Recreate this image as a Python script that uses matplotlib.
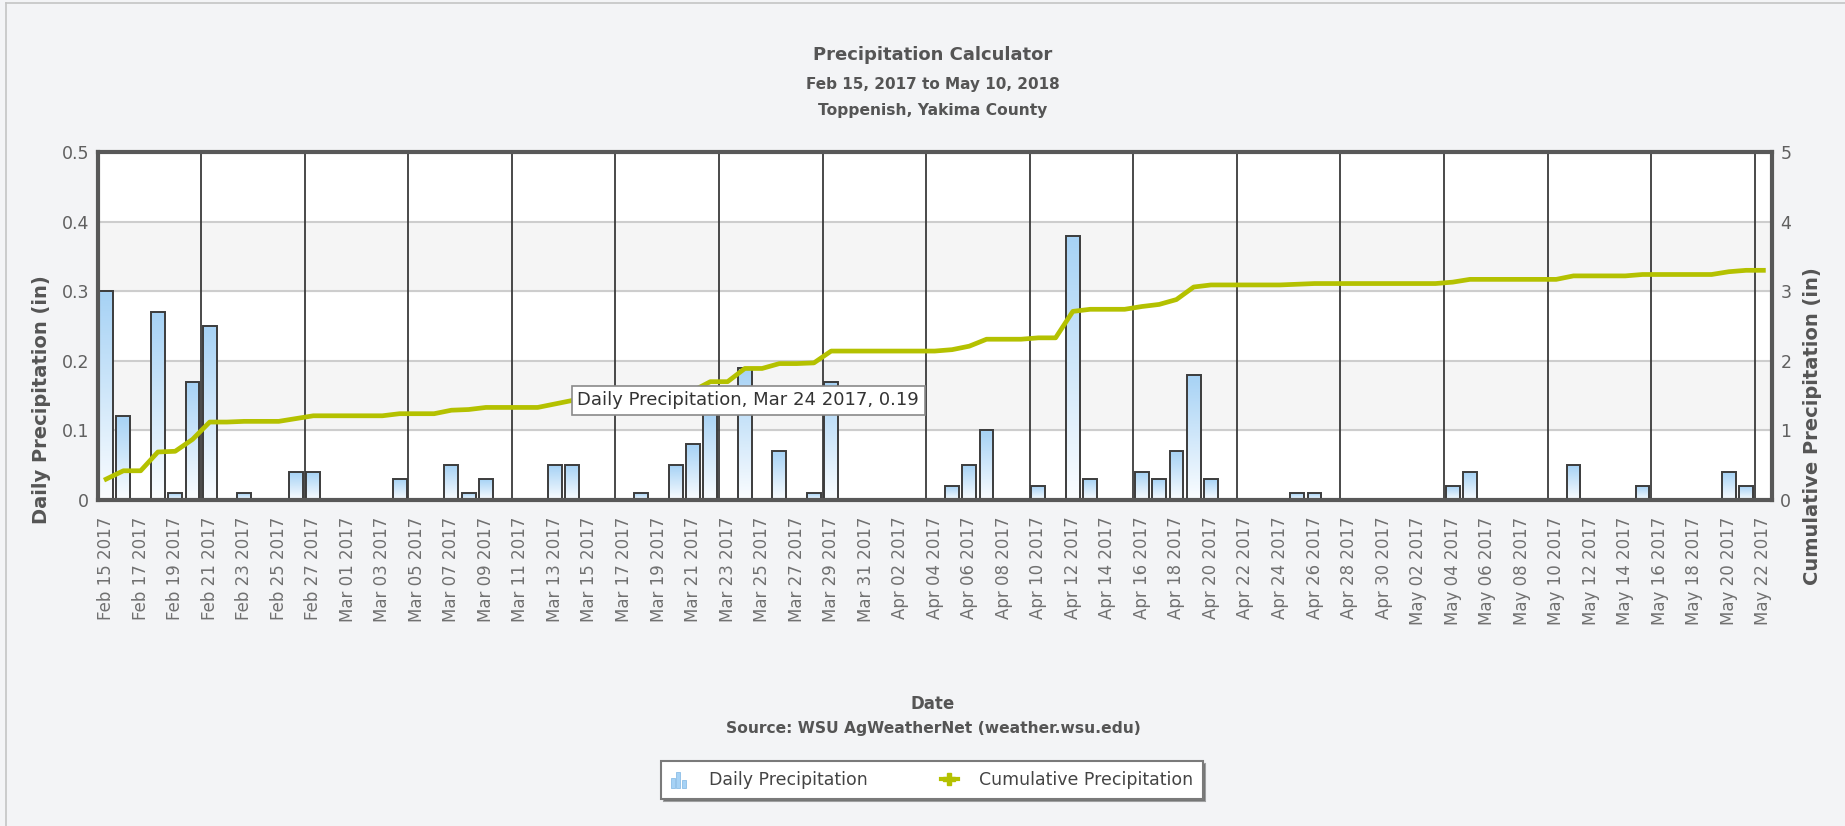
import numpy as np
import pandas as pd
import matplotlib
matplotlib.use("Agg")
import matplotlib.pyplot as plt
from matplotlib.colors import LinearSegmentedColormap
from matplotlib.patches import Rectangle, Patch
from matplotlib.lines import Line2D
from matplotlib.legend_handler import HandlerBase

# ---------------- data ----------------
dates = pd.date_range("2017-02-15", "2017-05-22", freq="D")
categories = [d.strftime("%b %d %Y") for d in dates]

daily = [0.30, 0.12, 0.00, 0.27, 0.01, 0.17, 0.25, 0.00, 0.01, 0.00,
         0.00, 0.04, 0.04, 0.00, 0.00, 0.00, 0.00, 0.03, 0.00, 0.00,
         0.05, 0.01, 0.03, 0.00, 0.00, 0.00, 0.05, 0.05, 0.00, 0.00,
         0.00, 0.01, 0.00, 0.05, 0.08, 0.13, 0.00, 0.19, 0.00, 0.07,
         0.00, 0.01, 0.17, 0.00, 0.00, 0.00, 0.00, 0.00, 0.00, 0.02,
         0.05, 0.10, 0.00, 0.00, 0.02, 0.00, 0.38, 0.03, 0.00, 0.00,
         0.04, 0.03, 0.07, 0.18, 0.03, 0.00, 0.00, 0.00, 0.00, 0.01,
         0.01, 0.00, 0.00, 0.00, 0.00, 0.00, 0.00, 0.00, 0.02, 0.04,
         0.00, 0.00, 0.00, 0.00, 0.00, 0.05, 0.00, 0.00, 0.00, 0.02,
         0.00, 0.00, 0.00, 0.00, 0.04, 0.02, 0.00]

cumulative = [0.30, 0.42, 0.42, 0.69, 0.70, 0.87, 1.12, 1.12, 1.13, 1.13,
              1.13, 1.17, 1.21, 1.21, 1.21, 1.21, 1.21, 1.24, 1.24, 1.24,
              1.29, 1.30, 1.33, 1.33, 1.33, 1.33, 1.38, 1.43, 1.43, 1.43,
              1.43, 1.44, 1.44, 1.49, 1.57, 1.70, 1.70, 1.89, 1.89, 1.96,
              1.96, 1.97, 2.14, 2.14, 2.14, 2.14, 2.14, 2.14, 2.14, 2.16,
              2.21, 2.31, 2.31, 2.31, 2.33, 2.33, 2.71, 2.74, 2.74, 2.74,
              2.78, 2.81, 2.88, 3.06, 3.09, 3.09, 3.09, 3.09, 3.09, 3.10,
              3.11, 3.11, 3.11, 3.11, 3.11, 3.11, 3.11, 3.11, 3.13, 3.17,
              3.17, 3.17, 3.17, 3.17, 3.17, 3.22, 3.22, 3.22, 3.22, 3.24,
              3.24, 3.24, 3.24, 3.24, 3.28, 3.30, 3.30]

left_ticks = [0, 0.1, 0.2, 0.3, 0.4, 0.5]
left_tick_labels = ["0", "0.1", "0.2", "0.3", "0.4", "0.5"]
right_ticks = [0, 1, 2, 3, 4, 5]
right_tick_labels = ["0", "1", "2", "3", "4", "5"]

tooltip_text = "Daily Precipitation, Mar 24 2017, 0.19"

# ---------------- style ----------------
BG = "#f3f4f6"
BAR_TOP = "#a6d2f5"
LINE_C = "#b4c100"
TXT = "#555555"

W, H = 1845, 826
fig = plt.figure(figsize=(W / 100, H / 100), dpi=100, facecolor=BG)

L, R, T, B = 97.5, 1772, 152, 500
ax = fig.add_axes([L / W, 1 - B / H, (R - L) / W, (B - T) / H])
ax.set_facecolor("white")

n = len(daily)
x = np.arange(n)

# alternating bands + grid
for lo, hi in [(0.1, 0.2), (0.3, 0.4)]:
    ax.axhspan(lo, hi, color="#f5f5f5", zorder=0)
for yv in left_ticks[1:-1]:
    ax.axhline(yv, color="#cdcdcd", lw=1.5, zorder=0.5)
for xv in np.arange(5.5, n, 6):
    ax.axvline(xv, color="#3a3a3a", lw=1.3, zorder=1)

# bars with gradient fill
bars = ax.bar(x, daily, width=0.8, color="none", edgecolor="#3c3c3c",
              linewidth=1.4, zorder=3)
cmap = LinearSegmentedColormap.from_list("g", ["#fbfdff", BAR_TOP])
grad = np.linspace(1, 0, 256).reshape(-1, 1)
for b in bars:
    h = b.get_height()
    if h <= 0:
        continue
    x0, w = b.get_x(), b.get_width()
    ax.imshow(grad, extent=(x0, x0 + w, 0, h), origin="upper",
              aspect="auto", cmap=cmap, vmin=0, vmax=1, zorder=2.9,
              interpolation="bilinear")

ax.set_xlim(-0.5, n - 0.5)
ax.set_ylim(0, 0.5)
ax.set_yticks(left_ticks)
ax.set_yticklabels(left_tick_labels)
ax.set_xticks(x[::2])
ax.set_xticklabels(categories[::2], rotation=90, ha="center", va="top")
ax.tick_params(axis="x", length=0, pad=12, labelsize=12, labelcolor="#707070")
ax.tick_params(axis="y", length=0, pad=6, labelsize=12.5, labelcolor="#606060")
for s in ax.spines.values():
    s.set_visible(False)

# cumulative line on right axis
ax2 = ax.twinx()
ax2.plot(x, cumulative, color=LINE_C, lw=3.4, zorder=4, solid_joinstyle="round")
ax2.set_ylim(0, 5)
ax2.set_xlim(-0.5, n - 0.5)
ax2.set_yticks(right_ticks)
ax2.set_yticklabels(right_tick_labels)
ax2.tick_params(axis="y", length=0, pad=6, labelsize=12.5, labelcolor="#606060")
for s in ax2.spines.values():
    s.set_color("#585858")
    s.set_linewidth(3)

# tooltip
ax2.text(27.3, 0.143, tooltip_text, transform=ax.transData, ha="left",
         va="center", fontsize=13, color="#333333", zorder=10,
         bbox=dict(boxstyle="square,pad=0.3", fc="white", ec="#8a8a8a", lw=1.2))

# titles
cx = 933 / W
fig.text(cx, 1 - 55 / H, "Precipitation Calculator", ha="center", va="center",
         fontsize=13, fontweight="bold", color=TXT)
fig.text(cx, 1 - 84 / H, "Feb 15, 2017 to May 10, 2018", ha="center", va="center",
         fontsize=11, fontweight="bold", color=TXT)
fig.text(cx, 1 - 110 / H, "Toppenish, Yakima County", ha="center", va="center",
         fontsize=11.2, fontweight="bold", color=TXT)

fig.text(42 / W, 1 - 400 / H, "Daily Precipitation (in)", rotation=90,
         ha="center", va="center", fontsize=14, fontweight="bold", color=TXT)
fig.text(1812 / W, 1 - 426 / H, "Cumulative Precipitation (in)", rotation=90,
         ha="center", va="center", fontsize=14, fontweight="bold", color=TXT)

fig.text(cx, 1 - 704 / H, "Date", ha="center", va="center", fontsize=12,
         fontweight="bold", color=TXT)
fig.text(cx, 1 - 729 / H, "Source: WSU AgWeatherNet (weather.wsu.edu)", ha="center",
         va="center", fontsize=11.2, fontweight="bold", color=TXT)


# legend
class BarIconHandler(HandlerBase):
    def create_artists(self, legend, orig_handle, xdescent, ydescent, width,
                       height, fontsize, trans):
        arts = []
        bw = width * 0.22
        gap = width * 0.1
        hs = [0.6, 1.05, 0.45]
        x0 = -xdescent
        for i, hh in enumerate(hs):
            r = Rectangle((x0 + i * (bw + gap), -ydescent - 2), bw, height * hh + 2,
                          fc=BAR_TOP, ec="#8cbde6", lw=0.6, transform=trans)
            arts.append(r)
        return arts


h_bar = Patch(facecolor=BAR_TOP)
h_line = Line2D([0], [0], color=LINE_C, lw=3, marker="P", markersize=8)
leg = fig.legend([h_bar, h_line], ["Daily Precipitation", "Cumulative Precipitation"],
                 handler_map={Patch: BarIconHandler()},
                 loc="center", bbox_to_anchor=(932 / W, 1 - 780 / H), ncol=2,
                 frameon=True, fancybox=False, shadow=True, fontsize=12.5,
                 handlelength=1.0, handletextpad=1.2, columnspacing=4.2,
                 borderpad=0.55, borderaxespad=0)
leg.get_frame().set_edgecolor("#7a7a7a")
leg.get_frame().set_linewidth(1.5)
for t in leg.get_texts():
    t.set_color("#444444")

# outer border lines
fig.add_artist(Line2D([6 / W, 1], [1 - 3 / H, 1 - 3 / H], color="#c4c4c4", lw=1.2,
                      transform=fig.transFigure))
fig.add_artist(Line2D([6 / W, 6 / W], [0, 1 - 3 / H], color="#c4c4c4", lw=1.2,
                      transform=fig.transFigure))

fig.savefig("out.png", dpi=100, facecolor=BG)
